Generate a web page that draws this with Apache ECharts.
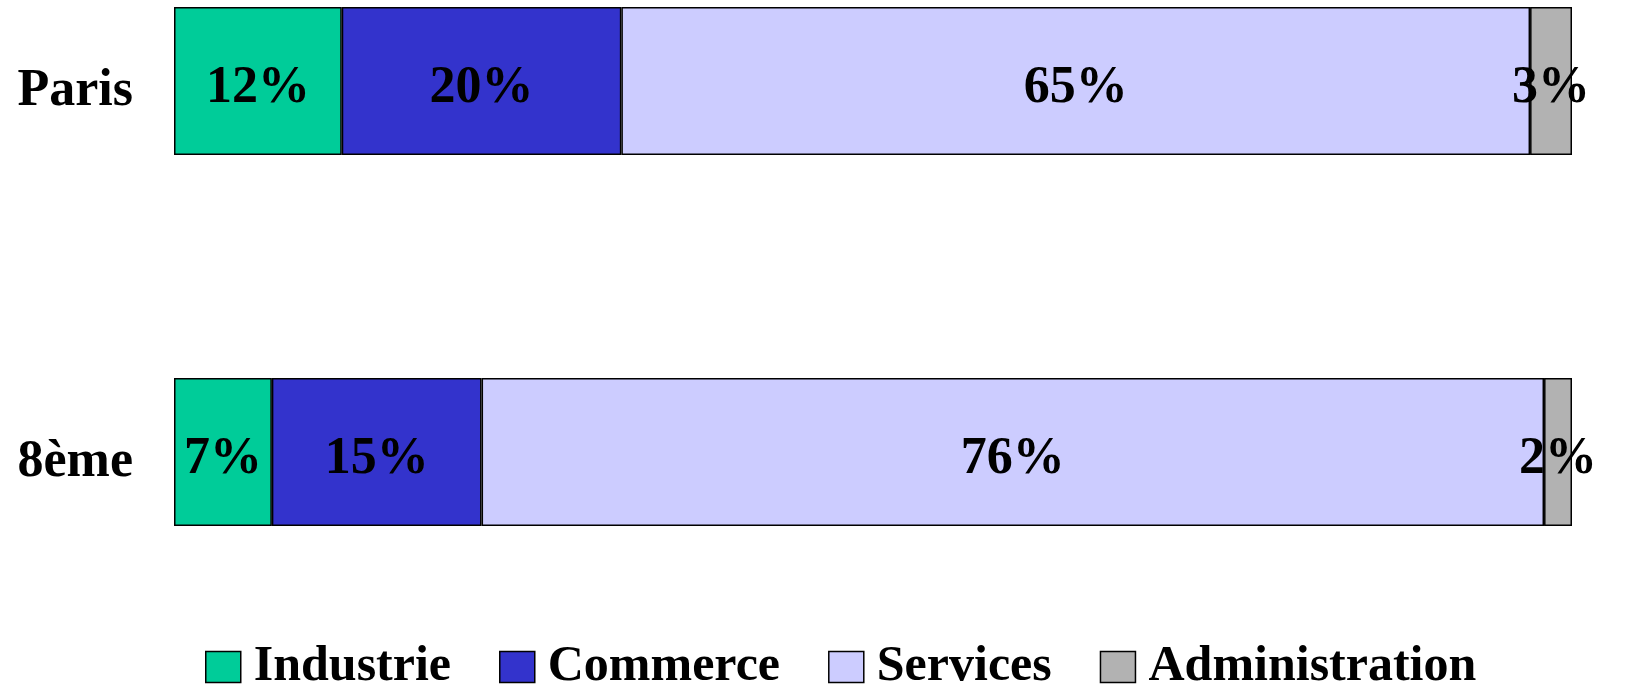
<!DOCTYPE html>
<html>
<head>
<meta charset="utf-8">
<script src="https://cdn.jsdelivr.net/npm/echarts@6/dist/echarts.min.js"></script>
<style>
  html, body { margin: 0; padding: 0; background: #fff; }
  #main { width: 1645px; height: 684px; }
</style>
</head>
<body>
<div id="main"></div>
<script>
// categories, top to bottom
const zones = ['Paris', '8ème'];
const sectors = ['Industrie', 'Commerce', 'Services', 'Administration'];
// share of each sector, in %
const industrie = [12, 7];
const commerce = [20, 15];
const services = [65, 76];
const administration = [3, 2];
const colors = ['#00CC99', '#3333CC', '#CCCCFF', '#B2B2B2'];

const values = [industrie, commerce, services, administration];
const font = '"Liberation Serif", "Times New Roman", serif';

let myChart = echarts.init(document.getElementById('main'));

let series = sectors.map((name, i) => ({
    name: name,
    type: 'bar',
    stack: 'total',
    barWidth: 148,
    clip: false,
    data: values[i],
    itemStyle: {
        color: colors[i],
        borderColor: '#000',
        borderWidth: 1.5
    },
    label: {
        show: true,
        position: 'inside',
        offset: [0, 8],
        formatter: '{c}%',
        color: '#000',
        fontFamily: font,
        fontWeight: 'bold',
        fontSize: 52
    }
}));

myChart.setOption({
    animation: false,
    grid: {
        left: 174,
        right: 73,
        top: 81,
        bottom: 232
    },
    xAxis: {
        type: 'value',
        min: 0,
        max: 100,
        show: false
    },
    yAxis: {
        type: 'category',
        data: zones,
        inverse: true,
        boundaryGap: false,
        axisLine: { show: false },
        axisTick: { show: false },
        splitLine: { show: false },
        axisLabel: {
            margin: 41,
            formatter: '{n|{value}}',
            rich: {
                n: {
                    padding: [22, 0, 0, 0],
                    color: '#000',
                    fontFamily: font,
                    fontWeight: 'bold',
                    fontSize: 52
                }
            }
        }
    },
    legend: {
        left: 200,
        top: 637,
        itemWidth: 35,
        itemHeight: 31,
        itemGap: 48,
        icon: 'rect',
        itemStyle: {
            borderColor: '#000',
            borderWidth: 1.5
        },
        textStyle: {
            color: '#000',
            fontFamily: font,
            fontWeight: 'bold',
            fontSize: 50,
            padding: [12, 0, 0, 8]
        },
        data: sectors
    },
    series: series
});
</script>
</body>
</html>
